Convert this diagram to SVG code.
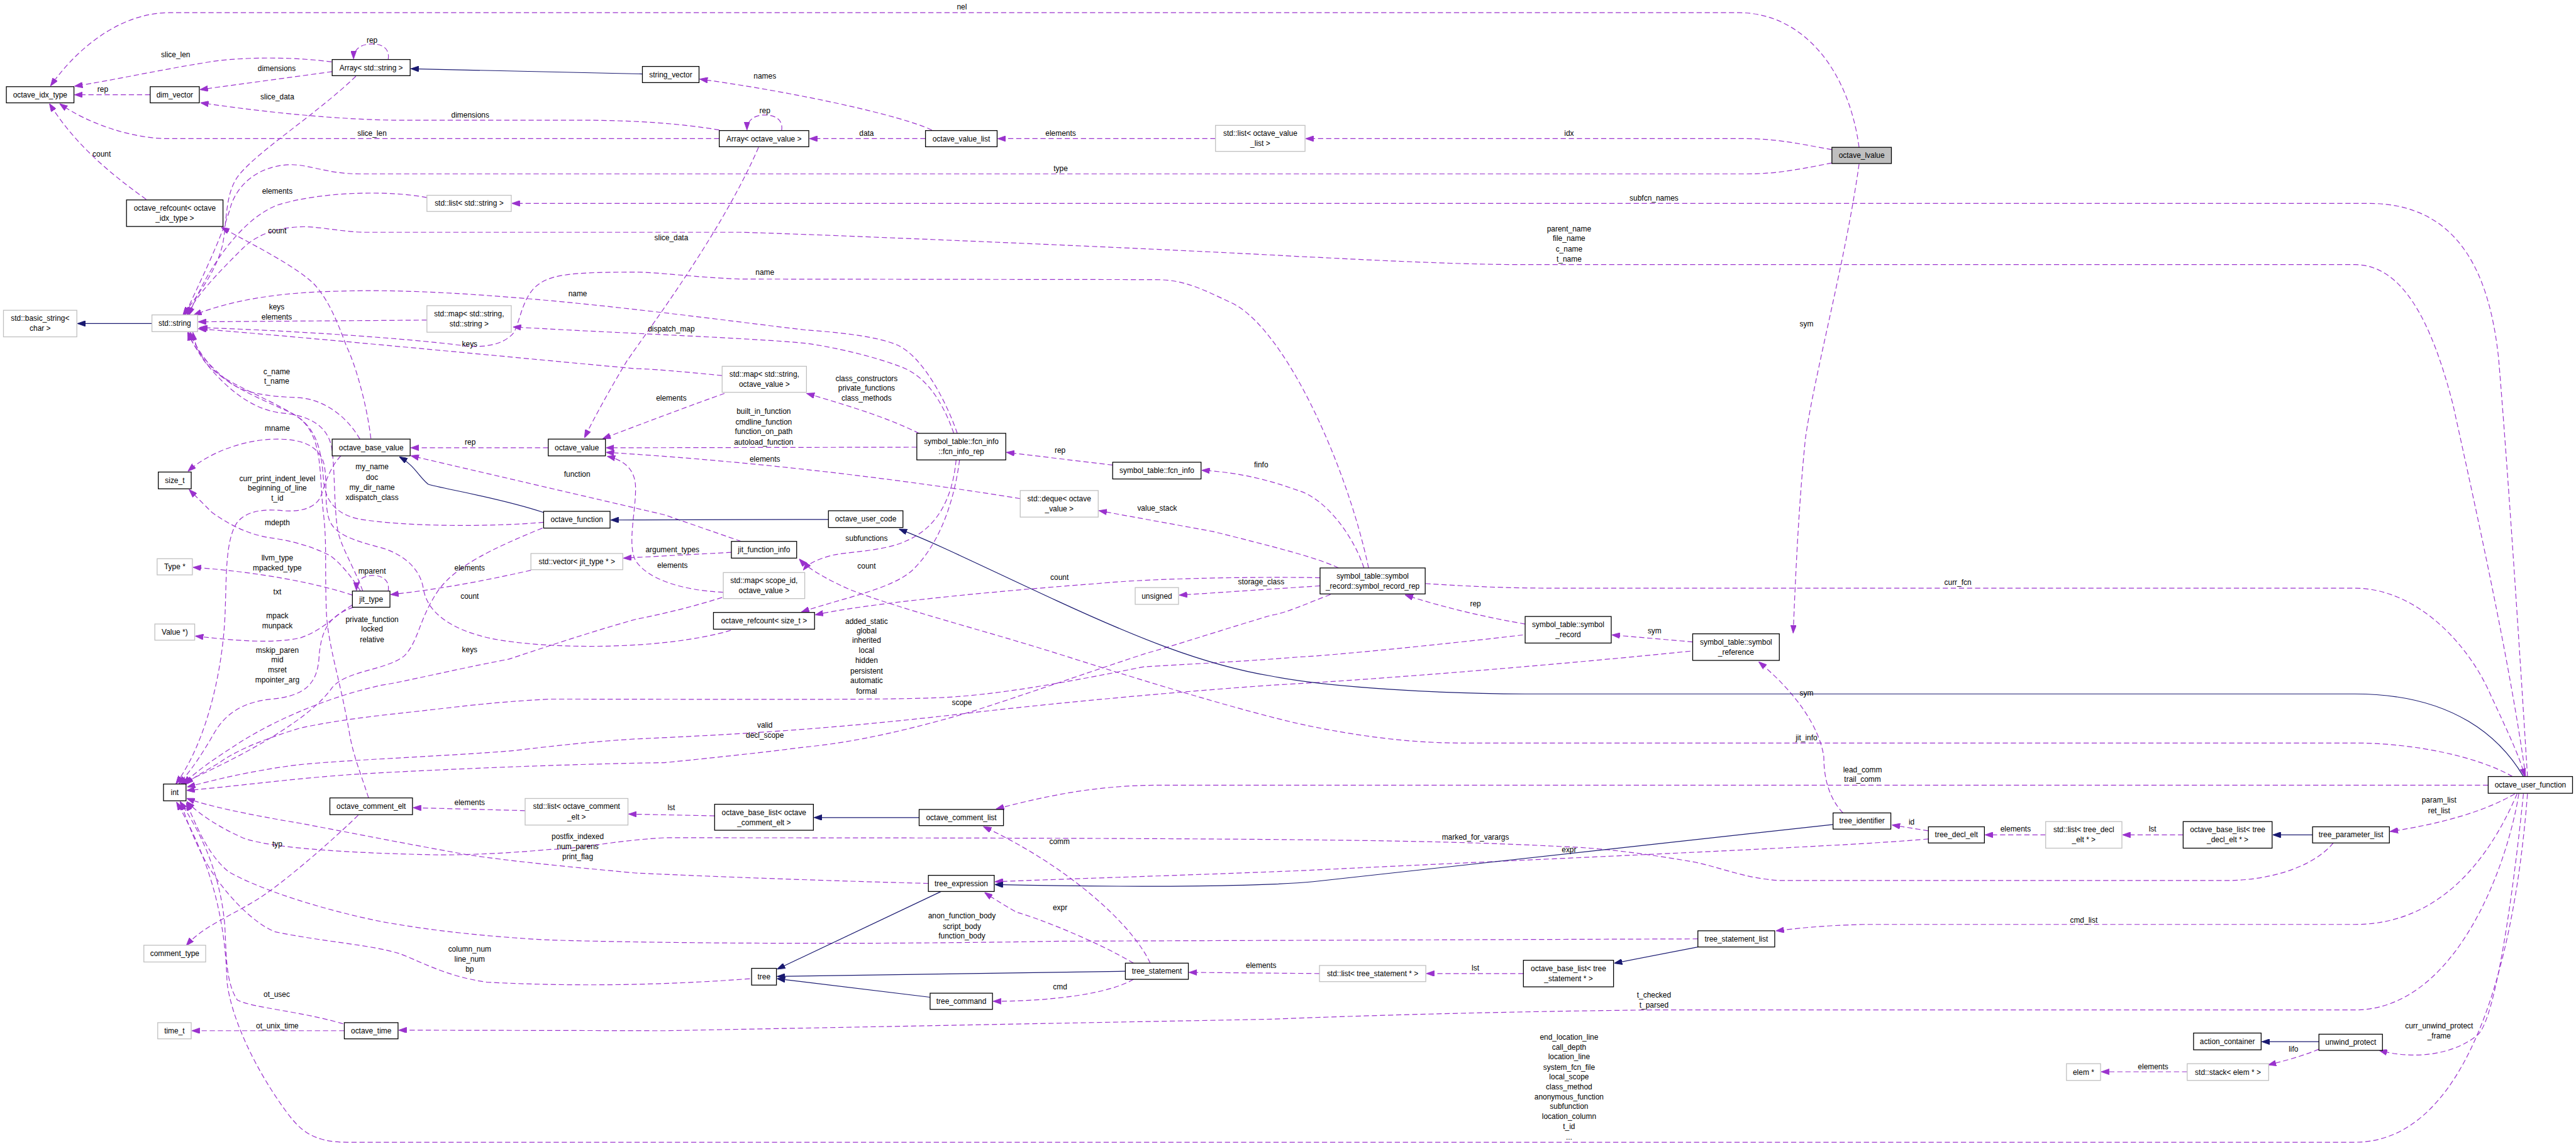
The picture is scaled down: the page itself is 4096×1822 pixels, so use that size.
<svg xmlns="http://www.w3.org/2000/svg" width="4096" height="1822" viewBox="0 0 4096 1822">
<style>
.d{fill:none;stroke:#9a32cd;stroke-width:1.3;stroke-dasharray:9,5;marker-end:url(#ap)}
.i{fill:none;stroke:#191970;stroke-width:1.3;marker-end:url(#ab)}
.n rect{fill:#fff;stroke:#000;stroke-width:1.4}
.g rect{fill:#fff;stroke:#bfbfbf;stroke-width:1.4}
.h rect{fill:#bfbfbf;stroke:#000;stroke-width:1.4}
text{font-family:"Liberation Sans",Arial,Helvetica,sans-serif;font-size:13px;text-anchor:middle;fill:#000}
</style>
<defs>
<marker id="ap" viewBox="0 0 14 10" refX="13" refY="5" markerWidth="14" markerHeight="10" markerUnits="userSpaceOnUse" orient="auto"><path d="M0,0L14,5L0,10z" fill="#9a32cd" stroke="#9a32cd" stroke-dasharray="none"/></marker>
<marker id="ab" viewBox="0 0 14 10" refX="13" refY="5" markerWidth="14" markerHeight="10" markerUnits="userSpaceOnUse" orient="auto"><path d="M0,0L14,5L0,10z" fill="#191970" stroke="#191970"/></marker>
</defs>
<rect width="4096" height="1822" fill="#fff"/>
<g transform="scale(0.91859)">
<g id="edges">
<path class="d" d="M3218,255 C3200,120 3120,22 3010,22 L293,22 C200,22 125,95 88,148"/>
<path class="d" d="M3171,259 C3100,246 3070,240 3020,240 L2261,240"/>
<path class="d" d="M3171,282 C3100,296 3070,301 3020,301 L623,301 C565,301 535,284 500,285 C445,288 412,320 400,355 C385,410 345,490 320,545"/>
<path class="d" d="M3218,284 C3195,450 3140,650 3125,760 C3113,880 3108,1000 3104,1095"/>
<path class="d" d="M574,107 C520,100 440,97 370,106 C280,120 190,140 130,149"/>
<path class="d" d="M575,124 L347,155"/>
<path class="d" d="M672,103 C675,84 662,76 644,76 C624,76 612,86 612,101"/>
<path class="d" d="M616,132 C545,200 445,262 412,305 C390,335 393,380 386,420 C376,470 335,520 317,545"/>
<path class="d" d="M260,164 L130,164"/>
<path class="d" d="M1245,240 L293,240 C225,240 150,212 104,180"/>
<path class="d" d="M1245,225 C1180,214 1100,208 1000,208 L680,208 C560,206 430,190 348,178"/>
<path class="d" d="M1353,226 C1356,207 1342,199 1323,199 C1305,199 1293,209 1293,224"/>
<path class="d" d="M1313,255 C1250,400 1130,560 1085,625 C1058,670 1030,720 1012,757"/>
<path class="d" d="M1602,240 L1402,240"/>
<path class="d" d="M1613,225 C1560,200 1380,160 1212,137"/>
<path class="d" d="M2104,240 L1728,240"/>
<path class="d" d="M253,345 C190,300 130,250 86,180"/>
<path class="d" d="M739,342 C680,330 560,330 480,355 C420,378 360,460 327,545"/>
<path class="d" d="M739,554 L344,557"/>
<path class="d" d="M1250,650 C1180,643 1120,638 1100,638 C900,620 600,590 344,569"/>
<path class="d" d="M1254,681 C1200,700 1120,730 1044,759"/>
<path class="d" d="M2369,983 C2330,800 2220,560 2127,522 C2080,500 2050,484 2000,484 L1283,483 C1200,480 1140,471 1100,471 C1000,471 960,474 935,490 C905,510 902,550 890,575 C870,600 830,602 800,598 C700,585 500,572 346,567"/>
<path class="d" d="M1657,750 C1640,700 1600,620 1555,598 C1520,582 1450,575 1393,571 C1300,560 1150,540 1000,525 C850,510 700,500 587,504 C480,506 400,520 336,545"/>
<path class="d" d="M1651,750 C1630,690 1600,650 1560,635 C1500,612 1420,597 1393,594 C1300,585 1100,578 889,566"/>
<path class="d" d="M1591,750 C1530,720 1460,700 1397,681"/>
<path class="d" d="M1587,774 L1050,775"/>
<path class="d" d="M1766,863 C1500,820 1250,795 1050,783"/>
<path class="d" d="M949,775 L712,775"/>
<path class="d" d="M1283,937 L1150,891 L712,789"/>
<path class="d" d="M1266,956 L1080,966"/>
<path class="d" d="M1252,1025 C1180,1022 1120,1002 1100,970 C1085,940 1102,880 1100,840 C1098,810 1078,796 1052,790"/>
<path class="d" d="M1655,796 C1650,850 1630,910 1569,936 C1530,955 1460,955 1437,962 C1415,968 1400,975 1391,986"/>
<path class="d" d="M1661,796 C1650,880 1620,950 1577,989 C1540,1020 1460,1035 1388,1059"/>
<path class="d" d="M1926,805 L1743,783"/>
<path class="d" d="M2361,983 C2340,920 2290,862 2250,850 C2200,832 2150,818 2081,814"/>
<path class="d" d="M2317,983 C2280,965 2200,945 2100,920 L1903,884"/>
<path class="d" d="M2285,1014 L2042,1030"/>
<path class="d" d="M2285,1000 C2200,998 2000,1000 1900,1010 C1700,1025 1500,1045 1412,1064"/>
<path class="d" d="M2467,1010 C2550,1015 2600,1018 2700,1018 L4076,1018 C4180,1018 4270,1110 4310,1200 C4340,1265 4362,1310 4370,1343"/>
<path class="d" d="M2640,1080 C2580,1070 2500,1052 2433,1030"/>
<path class="d" d="M2930,1111 L2791,1099"/>
<path class="d" d="M4349,1344 C4290,1310 4180,1286 4076,1286 L2530,1286 C2420,1286 2320,1268 2250,1253 C2150,1230 2000,1185 1833,1132 C1700,1090 1560,1055 1470,1020 C1430,1002 1400,985 1384,968"/>
<path class="d" d="M3190,1407 C3165,1380 3157,1345 3157,1310 C3150,1260 3110,1200 3045,1146"/>
<path class="d" d="M3338,1438 L3276,1428"/>
<path class="d" d="M3338,1452 C3200,1465 2700,1485 2250,1507 C2050,1515 1850,1521 1723,1526"/>
<path class="d" d="M3541,1445 L3437,1445"/>
<path class="d" d="M3779,1445 L3675,1445"/>
<path class="d" d="M4353,1374 C4300,1405 4224,1426 4138,1439"/>
<path class="d" d="M4307,1359 L2000,1359 C1900,1360 1820,1375 1725,1400"/>
<path class="d" d="M1991,1667 C1960,1600 1850,1500 1703,1431"/>
<path class="d" d="M1962,1667 C1900,1630 1800,1590 1760,1579 C1735,1565 1715,1552 1705,1545"/>
<path class="d" d="M1962,1695 C1920,1720 1820,1733 1720,1733"/>
<path class="d" d="M2284,1685 L2059,1683"/>
<path class="d" d="M2637,1685 L2470,1685"/>
<path class="d" d="M4357,1374 C4320,1460 4240,1600 4076,1600 L3226,1600 C3150,1602 3110,1607 3075,1611"/>
<path class="d" d="M1237,1412 L1089,1409"/>
<path class="d" d="M909,1403 L716,1398"/>
<path class="d" d="M4360,1374 C4340,1500 4250,1748 4076,1748 L2860,1748 C2500,1752 2250,1762 2200,1764 L1150,1784 L691,1783"/>
<path class="d" d="M4368,1374 C4350,1550 4320,1760 4290,1790 C4250,1825 4180,1835 4119,1818"/>
<path class="d" d="M4014,1816 C3985,1828 3955,1836 3927,1843"/>
<path class="d" d="M3786,1855 L3638,1855"/>
<path class="d" d="M596,1784 L333,1784"/>
<path class="d" d="M594,1772 C520,1750 440,1745 411,1731 C390,1700 392,1650 389,1600 C380,1500 340,1430 312,1388"/>
<path class="d" d="M620,1411 C580,1450 490,1530 440,1560 C390,1590 350,1605 323,1636"/>
<path class="d" d="M4375,1374 C4350,1700 4260,1977 4076,1977 L601,1977 C540,1977 520,1955 500,1930 C440,1850 400,1760 393,1700 C390,1600 370,1500 306,1389"/>
<path class="d" d="M1298,1694 C1150,1705 1000,1708 843,1700 C770,1690 720,1660 690,1650 C640,1635 560,1630 477,1613 C440,1600 380,1540 350,1480 C330,1440 320,1410 313,1389"/>
<path class="d" d="M2939,1625 L1833,1629 C1500,1635 1150,1633 953,1627 C850,1622 740,1610 660,1595 C560,1575 450,1540 396,1509 C360,1480 340,1430 323,1390"/>
<path class="d" d="M4039,1459 C4000,1505 3920,1524 3854,1524 L3080,1524 C3020,1520 2980,1502 2933,1492 C2850,1478 2780,1468 2700,1465 C2500,1455 2300,1450 1150,1450 C1060,1455 1000,1470 953,1470 C870,1478 780,1481 733,1479 C640,1477 470,1470 420,1450 C380,1432 345,1410 324,1388"/>
<path class="d" d="M1607,1529 C1450,1525 1250,1518 1100,1511 C980,1500 880,1490 807,1479 C700,1460 600,1440 520,1425 C430,1410 360,1395 324,1382"/>
<path class="d" d="M2636,1099 C2500,1115 2300,1135 2250,1137 C2150,1145 2050,1150 1980,1154 C1850,1180 1720,1205 1613,1208 C1500,1212 1200,1210 953,1210 C850,1215 780,1225 733,1230 C660,1238 590,1245 520,1260 C440,1284 400,1305 380,1320 C355,1335 335,1345 322,1357"/>
<path class="d" d="M2926,1127 C2700,1150 2400,1175 2200,1186 C2000,1200 1800,1220 1687,1233 C1500,1255 1350,1268 1100,1279 C1000,1285 930,1295 880,1300 C750,1310 600,1315 513,1324 C430,1335 370,1350 325,1362"/>
<path class="d" d="M2303,1029 C2260,1045 2230,1060 2200,1065 C2100,1095 2040,1115 1980,1132 C1880,1165 1780,1200 1687,1230 C1580,1262 1480,1285 1393,1293 C1300,1305 1200,1315 1150,1320 C1000,1322 800,1330 650,1338 C520,1345 420,1360 324,1368"/>
<path class="d" d="M1250,1034 C1200,1050 1150,1062 1100,1072 C1000,1100 900,1135 880,1141 C780,1160 700,1180 660,1186 C550,1210 450,1260 400,1295 C360,1320 335,1340 318,1356"/>
<path class="d" d="M939,914 C850,950 790,980 760,1020 C725,1070 725,1110 700,1135 C670,1160 600,1160 575,1190 C540,1240 440,1300 314,1356"/>
<path class="d" d="M612,1051 C570,1065 555,1090 552,1141 C548,1190 520,1205 470,1210 C420,1215 390,1235 370,1270 C350,1305 330,1335 310,1356"/>
<path class="d" d="M590,789 C570,810 562,840 555,860 C545,880 520,886 490,884 C455,880 425,885 410,905 C390,935 392,1000 390,1050 C388,1150 360,1280 305,1356"/>
<path class="d" d="M1265,1091 C1150,1125 950,1125 850,1105 C780,1090 740,1060 733,1020 C728,985 700,960 660,948 C610,935 580,925 570,900 C560,870 568,830 560,800 C550,770 520,760 480,760 C420,760 360,785 326,815"/>
<path class="d" d="M628,1023 C612,980 592,950 585,920 C578,880 580,820 575,780 C570,740 540,720 490,715 C430,710 380,660 350,620 C338,600 330,590 327,576"/>
<path class="d" d="M623,760 C600,720 560,690 513,688 C460,686 420,680 395,660 C365,635 340,610 325,576"/>
<path class="d" d="M941,904 C850,912 700,912 620,898 C575,888 562,860 560,830 C556,780 550,740 505,715 C450,690 400,670 370,640 C345,610 333,590 330,576"/>
<path class="d" d="M638,1381 C625,1340 612,1310 605,1270 C590,1180 568,1120 565,1060 C562,980 566,940 560,890 C552,820 560,760 520,725 C470,690 390,665 360,632 C342,610 336,590 334,576"/>
<path class="d" d="M610,1030 C550,1010 450,990 335,982"/>
<path class="d" d="M610,1047 C580,1065 560,1090 520,1104 C470,1115 400,1108 339,1101"/>
<path class="d" d="M672,1023 C675,1004 662,996 645,996 C628,996 617,1005 617,1021"/>
<path class="d" d="M919,987 C840,1005 760,1020 677,1029"/>
<path class="d" d="M624,1023 C610,1000 590,975 572,962 C540,945 500,935 469,931 C430,925 400,910 367,887 C350,870 335,855 328,848"/>
<path class="d" d="M642,759 C635,700 615,630 600,600 C585,560 570,520 543,491 C510,460 450,430 384,394"/>
<path class="d" d="M4375,1344 C4360,1100 4340,800 4325,620 C4310,480 4260,352 4100,352 L887,352"/>
<path class="d" d="M4372,1344 C4345,1150 4290,900 4246,700 C4210,560 4160,458 4076,458 L2640,458 C2500,458 2300,446 2250,444 C2000,430 1400,405 1283,402 L627,402 C580,400 545,390 513,393 C470,396 440,410 420,430 C380,470 340,510 324,545"/>
<path class="i" d="M1112,128 L712,119"/>
<path class="i" d="M263,560 L135,560"/>
<path class="i" d="M941,887 C860,860 760,845 741,838 C725,825 718,806 692,791"/>
<path class="i" d="M1434,899 L1058,900"/>
<path class="i" d="M4368,1344 C4330,1280 4250,1201 4076,1201 L2640,1201 C2500,1201 2300,1190 2200,1170 C2080,1150 1960,1100 1830,1040 C1700,980 1620,940 1557,916"/>
<path class="i" d="M1591,1415 L1410,1415"/>
<path class="i" d="M3173,1427 L2273,1526 C2200,1533 2000,1537 1723,1531"/>
<path class="i" d="M1629,1543 L1346,1677"/>
<path class="i" d="M1948,1681 L1346,1690"/>
<path class="i" d="M1610,1726 L1346,1694"/>
<path class="i" d="M2939,1639 L2795,1667"/>
<path class="i" d="M4003,1445 L3935,1445"/>
<path class="i" d="M4014,1803 L3916,1803"/>
</g>
<g id="labels">
<text x="1665" y="16.5">nel</text>
<text x="644" y="73.5">rep</text>
<text x="304" y="99.5">slice_len</text>
<text x="479" y="123.5">dimensions</text>
<text x="1324" y="136.5">names</text>
<text x="178" y="159.5">rep</text>
<text x="480" y="171.5">slice_data</text>
<text x="1324" y="196.5">rep</text>
<text x="814" y="203.5">dimensions</text>
<text x="644" y="235.5">slice_len</text>
<text x="1500" y="235.5">data</text>
<text x="1836" y="235.5">elements</text>
<text x="2716" y="235.5">idx</text>
<text x="176" y="271.5">count</text>
<text x="1836" y="296.5">type</text>
<text x="480" y="335.5">elements</text>
<text x="2863" y="347.5">subfcn_names</text>
<text x="480" y="403.5">count</text>
<text x="2716" y="400.5">parent_name<tspan x="2716" y="417.5">file_name</tspan><tspan x="2716" y="435.5">c_name</tspan><tspan x="2716" y="452.5">t_name</tspan></text>
<text x="1162" y="415.5">slice_data</text>
<text x="1324" y="475.5">name</text>
<text x="1000" y="512.5">name</text>
<text x="479" y="535.5">keys<tspan x="479" y="552.5">elements</tspan></text>
<text x="3127" y="564.5">sym</text>
<text x="1162" y="573.5">dispatch_map</text>
<text x="813" y="599.5">keys</text>
<text x="479" y="647.5">c_name<tspan x="479" y="664.5">t_name</tspan></text>
<text x="1500" y="659.5">class_constructors<tspan x="1500" y="676.5">private_functions</tspan><tspan x="1500" y="693.5">class_methods</tspan></text>
<text x="1162" y="693.5">elements</text>
<text x="1322" y="716.5">built_in_function<tspan x="1322" y="734.5">cmdline_function</tspan><tspan x="1322" y="751.5">function_on_path</tspan><tspan x="1322" y="769.5">autoload_function</tspan></text>
<text x="480" y="745.5">mname</text>
<text x="814" y="769.5">rep</text>
<text x="1835" y="783.5">rep</text>
<text x="1324" y="799.5">elements</text>
<text x="2183" y="808.5">finfo</text>
<text x="644" y="812.5">my_name<tspan x="644" y="830.5">doc</tspan><tspan x="644" y="848.5">my_dir_name</tspan><tspan x="644" y="865.5">xdispatch_class</tspan></text>
<text x="999" y="825.5">function</text>
<text x="480" y="832.5">curr_print_indent_level<tspan x="480" y="849.5">beginning_of_line</tspan><tspan x="480" y="866.5">t_id</tspan></text>
<text x="2003" y="883.5">value_stack</text>
<text x="480" y="908.5">mdepth</text>
<text x="1500" y="936.5">subfunctions</text>
<text x="1164" y="955.5">argument_types</text>
<text x="480" y="969.5">llvm_type<tspan x="480" y="987.5">mpacked_type</tspan></text>
<text x="644" y="992.5">mparent</text>
<text x="813" y="987.5">elements</text>
<text x="1164" y="983.5">elements</text>
<text x="1500" y="984.5">count</text>
<text x="1834" y="1003.5">count</text>
<text x="3389" y="1012.5">curr_fcn</text>
<text x="2183" y="1011.5">storage_class</text>
<text x="480" y="1028.5">txt</text>
<text x="813" y="1036.5">count</text>
<text x="2554" y="1049.5">rep</text>
<text x="480" y="1070.5">mpack<tspan x="480" y="1087.5">munpack</tspan></text>
<text x="644" y="1076.5">private_function<tspan x="644" y="1093.5">locked</tspan><tspan x="644" y="1111.5">relative</tspan></text>
<text x="1500" y="1079.5">added_static<tspan x="1500" y="1096.5">global</tspan><tspan x="1500" y="1112.5">inherited</tspan><tspan x="1500" y="1130.5">local</tspan><tspan x="1500" y="1147.5">hidden</tspan><tspan x="1500" y="1165.5">persistent</tspan><tspan x="1500" y="1182.5">automatic</tspan><tspan x="1500" y="1200.5">formal</tspan></text>
<text x="2864" y="1096.5">sym</text>
<text x="813" y="1128.5">keys</text>
<text x="480" y="1129.5">mskip_paren<tspan x="480" y="1146.5">mid</tspan><tspan x="480" y="1163.5">msret</tspan><tspan x="480" y="1181.5">mpointer_arg</tspan></text>
<text x="3127" y="1203.5">sym</text>
<text x="1665" y="1220.5">scope</text>
<text x="1324" y="1259.5">valid<tspan x="1324" y="1277.5">decl_scope</tspan></text>
<text x="3127" y="1281.5">jit_info</text>
<text x="3224" y="1336.5">lead_comm<tspan x="3224" y="1353.5">trail_comm</tspan></text>
<text x="4222" y="1389.5">param_list<tspan x="4222" y="1407.5">ret_list</tspan></text>
<text x="813" y="1393.5">elements</text>
<text x="1162" y="1402.5">lst</text>
<text x="3309" y="1427.5">id</text>
<text x="3489" y="1439.5">elements</text>
<text x="3726" y="1439.5">lst</text>
<text x="1000" y="1452.5">postfix_indexed<tspan x="1000" y="1469.5">num_parens</tspan><tspan x="1000" y="1487.5">print_flag</tspan></text>
<text x="2554" y="1453.5">marked_for_varargs</text>
<text x="1834" y="1460.5">comm</text>
<text x="480" y="1465.5">typ</text>
<text x="2716" y="1475.5">expr</text>
<text x="1835" y="1575.5">expr</text>
<text x="1665" y="1589.5">anon_function_body<tspan x="1665" y="1607.5">script_body</tspan><tspan x="1665" y="1624.5">function_body</tspan></text>
<text x="3607" y="1596.5">cmd_list</text>
<text x="813" y="1647.5">column_num<tspan x="813" y="1664.5">line_num</tspan><tspan x="813" y="1681.5">bp</tspan></text>
<text x="2183" y="1675.5">elements</text>
<text x="2554" y="1679.5">lst</text>
<text x="1835" y="1712.5">cmd</text>
<text x="479" y="1725.5">ot_usec</text>
<text x="2863" y="1726.5">t_checked<tspan x="2863" y="1744.5">t_parsed</tspan></text>
<text x="4222" y="1779.5">curr_unwind_protect<tspan x="4222" y="1797.5">_frame</tspan></text>
<text x="480" y="1779.5">ot_unix_time</text>
<text x="3970" y="1820.5">lifo</text>
<text x="3727" y="1850.5">elements</text>
<text x="2716" y="1799.5">end_location_line<tspan x="2716" y="1816.5">call_depth</tspan><tspan x="2716" y="1833.5">location_line</tspan><tspan x="2716" y="1851.5">system_fcn_file</tspan><tspan x="2716" y="1868.5">local_scope</tspan><tspan x="2716" y="1885.5">class_method</tspan><tspan x="2716" y="1902.5">anonymous_function</tspan><tspan x="2716" y="1919.5">subfunction</tspan><tspan x="2716" y="1936.5">location_column</tspan><tspan x="2716" y="1954.5">t_id</tspan><tspan x="2716" y="1972.5">...</tspan></text>
</g>
<g id="nodes">
<g id="octave_idx_type" class="n"><rect x="11" y="150" width="117" height="28"/><text x="69.5" y="168.5">octave_idx_type</text></g>
<g id="dim_vector" class="n"><rect x="260" y="150" width="85" height="28"/><text x="302.5" y="168.5">dim_vector</text></g>
<g id="Array_std_string" class="n"><rect x="575" y="103" width="135" height="28"/><text x="642.5" y="121.5">Array&lt; std::string &gt;</text></g>
<g id="string_vector" class="n"><rect x="1112" y="115" width="98" height="28"/><text x="1161" y="133.5">string_vector</text></g>
<g id="Array_octave_value" class="n"><rect x="1245" y="226" width="155" height="28"/><text x="1322.5" y="244.5">Array&lt; octave_value &gt;</text></g>
<g id="octave_value_list" class="n"><rect x="1602" y="226" width="124" height="28"/><text x="1664" y="244.5">octave_value_list</text></g>
<g id="std_list_octave_value_list" class="g"><rect x="2104" y="217" width="155" height="45"/><text x="2181.5" y="235.5">std::list&lt; octave_value</text><text x="2181.5" y="253">_list &gt;</text></g>
<g id="octave_lvalue" class="h"><rect x="3171" y="255" width="103" height="28"/><text x="3222.5" y="273.5">octave_lvalue</text></g>
<g id="octave_refcount_octave_idx_type" class="n"><rect x="219" y="346" width="167" height="46"/><text x="302.5" y="364.5">octave_refcount&lt; octave</text><text x="302.5" y="382">_idx_type &gt;</text></g>
<g id="std_list_std_string" class="g"><rect x="739" y="338" width="146" height="28"/><text x="812" y="356.5">std::list&lt; std::string &gt;</text></g>
<g id="std_basic_string_char" class="g"><rect x="6" y="537" width="127" height="46"/><text x="69.5" y="555.5">std::basic_string&lt;</text><text x="69.5" y="573">char &gt;</text></g>
<g id="std_string" class="g"><rect x="263" y="545" width="79" height="29"/><text x="302.5" y="564">std::string</text></g>
<g id="std_map_string_string" class="g"><rect x="739" y="529" width="146" height="46"/><text x="812" y="547.5">std::map&lt; std::string,</text><text x="812" y="565">std::string &gt;</text></g>
<g id="std_map_string_octave_value" class="g"><rect x="1250" y="634" width="146" height="45"/><text x="1323" y="652.5">std::map&lt; std::string,</text><text x="1323" y="670">octave_value &gt;</text></g>
<g id="octave_base_value" class="n"><rect x="575" y="760" width="135" height="29"/><text x="642.5" y="779">octave_base_value</text></g>
<g id="octave_value" class="n"><rect x="949" y="760" width="99" height="29"/><text x="998.5" y="779">octave_value</text></g>
<g id="size_t" class="n"><rect x="274" y="817" width="57" height="29"/><text x="302.5" y="836">size_t</text></g>
<g id="octave_function" class="n"><rect x="941" y="885" width="115" height="29"/><text x="998.5" y="904">octave_function</text></g>
<g id="std_vector_jit_type" class="g"><rect x="919" y="958" width="159" height="28"/><text x="998.5" y="976.5">std::vector&lt; jit_type * &gt;</text></g>
<g id="Type" class="g"><rect x="272" y="967" width="61" height="28"/><text x="302.5" y="985.5">Type *</text></g>
<g id="jit_type" class="n"><rect x="610" y="1023" width="65" height="28"/><text x="642.5" y="1041.5">jit_type</text></g>
<g id="Value" class="g"><rect x="268" y="1080" width="69" height="28"/><text x="302.5" y="1098.5">Value *)</text></g>
<g id="fcn_info_rep" class="n"><rect x="1587" y="750" width="154" height="46"/><text x="1664" y="768.5">symbol_table::fcn_info</text><text x="1664" y="786">::fcn_info_rep</text></g>
<g id="fcn_info" class="n"><rect x="1926" y="800" width="153" height="29"/><text x="2002.5" y="819">symbol_table::fcn_info</text></g>
<g id="std_deque_octave_value" class="g"><rect x="1766" y="849" width="135" height="46"/><text x="1833.5" y="867.5">std::deque&lt; octave</text><text x="1833.5" y="885">_value &gt;</text></g>
<g id="octave_user_code" class="n"><rect x="1434" y="884" width="129" height="29"/><text x="1498.5" y="903">octave_user_code</text></g>
<g id="jit_function_info" class="n"><rect x="1266" y="937" width="113" height="29"/><text x="1322.5" y="956">jit_function_info</text></g>
<g id="std_map_scope_id_octave_value" class="g"><rect x="1252" y="991" width="141" height="45"/><text x="1322.5" y="1009.5">std::map&lt; scope_id,</text><text x="1322.5" y="1027">octave_value &gt;</text></g>
<g id="octave_refcount_size_t" class="n"><rect x="1235" y="1060" width="175" height="29"/><text x="1322.5" y="1079">octave_refcount&lt; size_t &gt;</text></g>
<g id="unsigned" class="g"><rect x="1965" y="1017" width="75" height="29"/><text x="2002.5" y="1036">unsigned</text></g>
<g id="symbol_record_rep" class="n"><rect x="2285" y="983" width="182" height="45"/><text x="2376" y="1001.5">symbol_table::symbol</text><text x="2376" y="1019">_record::symbol_record_rep</text></g>
<g id="symbol_record" class="n"><rect x="2640" y="1067" width="149" height="46"/><text x="2714.5" y="1085.5">symbol_table::symbol</text><text x="2714.5" y="1103">_record</text></g>
<g id="symbol_reference" class="n"><rect x="2930" y="1097" width="150" height="46"/><text x="3005" y="1115.5">symbol_table::symbol</text><text x="3005" y="1133">_reference</text></g>
<g id="int" class="n"><rect x="283" y="1357" width="39" height="29"/><text x="302.5" y="1376">int</text></g>
<g id="octave_comment_elt" class="n"><rect x="571" y="1381" width="143" height="29"/><text x="642.5" y="1400">octave_comment_elt</text></g>
<g id="std_list_octave_comment_elt" class="g"><rect x="909" y="1382" width="178" height="46"/><text x="998" y="1400.5">std::list&lt; octave_comment</text><text x="998" y="1418">_elt &gt;</text></g>
<g id="comment_type" class="g"><rect x="249" y="1636" width="107" height="29"/><text x="302.5" y="1655">comment_type</text></g>
<g id="time_t" class="g"><rect x="273" y="1770" width="58" height="28"/><text x="302" y="1788.5">time_t</text></g>
<g id="octave_time" class="n"><rect x="596" y="1770" width="93" height="28"/><text x="642.5" y="1788.5">octave_time</text></g>
<g id="octave_base_list_octave_comment_elt" class="n"><rect x="1237" y="1392" width="171" height="45"/><text x="1322.5" y="1410.5">octave_base_list&lt; octave</text><text x="1322.5" y="1428">_comment_elt &gt;</text></g>
<g id="octave_comment_list" class="n"><rect x="1591" y="1401" width="146" height="28"/><text x="1664" y="1419.5">octave_comment_list</text></g>
<g id="tree_expression" class="n"><rect x="1607" y="1515" width="114" height="28"/><text x="1664" y="1533.5">tree_expression</text></g>
<g id="tree" class="n"><rect x="1301" y="1676" width="43" height="29"/><text x="1322.5" y="1695">tree</text></g>
<g id="tree_statement" class="n"><rect x="1948" y="1667" width="109" height="28"/><text x="2002.5" y="1685.5">tree_statement</text></g>
<g id="tree_command" class="n"><rect x="1610" y="1719" width="108" height="28"/><text x="1664" y="1737.5">tree_command</text></g>
<g id="tree_identifier" class="n"><rect x="3173" y="1407" width="100" height="28"/><text x="3223" y="1425.5">tree_identifier</text></g>
<g id="tree_statement_list" class="n"><rect x="2939" y="1611" width="133" height="28"/><text x="3005.5" y="1629.5">tree_statement_list</text></g>
<g id="octave_base_list_tree_statement" class="n"><rect x="2637" y="1662" width="156" height="46"/><text x="2715" y="1680.5">octave_base_list&lt; tree</text><text x="2715" y="1698">_statement * &gt;</text></g>
<g id="std_list_tree_statement" class="g"><rect x="2284" y="1671" width="184" height="28"/><text x="2376" y="1689.5">std::list&lt; tree_statement * &gt;</text></g>
<g id="octave_user_function" class="n"><rect x="4307" y="1344" width="146" height="29"/><text x="4380" y="1363">octave_user_function</text></g>
<g id="tree_decl_elt" class="n"><rect x="3338" y="1431" width="97" height="28"/><text x="3386.5" y="1449.5">tree_decl_elt</text></g>
<g id="std_list_tree_decl_elt" class="g"><rect x="3541" y="1422" width="132" height="46"/><text x="3607" y="1440.5">std::list&lt; tree_decl</text><text x="3607" y="1458">_elt * &gt;</text></g>
<g id="octave_base_list_tree_decl_elt" class="n"><rect x="3779" y="1422" width="154" height="46"/><text x="3856" y="1440.5">octave_base_list&lt; tree</text><text x="3856" y="1458">_decl_elt * &gt;</text></g>
<g id="tree_parameter_list" class="n"><rect x="4003" y="1431" width="133" height="28"/><text x="4069.5" y="1449.5">tree_parameter_list</text></g>
<g id="action_container" class="n"><rect x="3797" y="1788" width="117" height="29"/><text x="3855.5" y="1807">action_container</text></g>
<g id="unwind_protect" class="n"><rect x="4014" y="1790" width="110" height="28"/><text x="4069" y="1808.5">unwind_protect</text></g>
<g id="elem" class="g"><rect x="3577" y="1841" width="59" height="29"/><text x="3606.5" y="1860">elem *</text></g>
<g id="std_stack_elem" class="g"><rect x="3786" y="1841" width="141" height="29"/><text x="3856.5" y="1860">std::stack&lt; elem * &gt;</text></g>
</g>
</g>
</svg>
